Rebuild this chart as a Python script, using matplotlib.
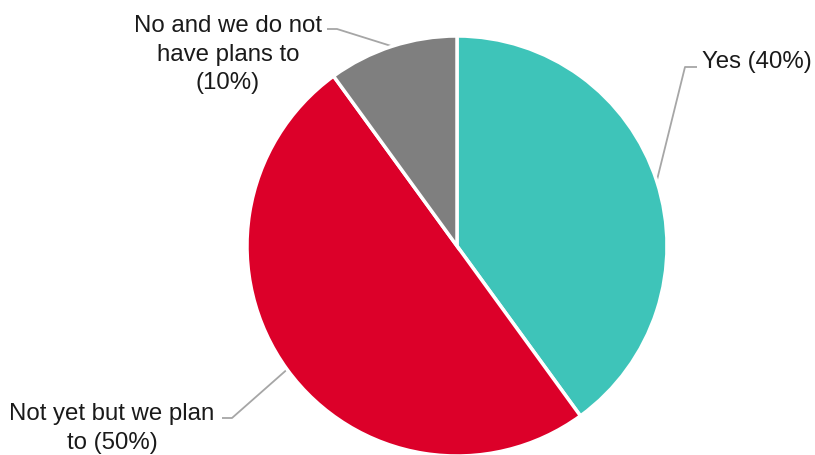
import numpy as np
import matplotlib
matplotlib.use("Agg")
import matplotlib.pyplot as plt

categories = ["Yes (40%)", "Not yet but we plan\nto (50%)", "No and we do not\nhave plans to\n(10%)"]
values = [40, 50, 10]
colors = ["#3EC4B9", "#DC0029", "#7F7F7F"]

W, H = 815, 456
fig = plt.figure(figsize=(W / 100, H / 100), dpi=100)
ax = fig.add_axes([0, 0, 1, 1])

cx, cy, r = 457, H - 247, 210
wedges, _ = ax.pie(values, colors=colors, startangle=90, counterclock=False,
                   center=(cx, cy), radius=r, frame=True,
                   wedgeprops=dict(edgecolor="white", linewidth=2.5))
ax.set_xlim(0, W)
ax.set_ylim(0, H)
ax.set_aspect("equal")
ax.axis("off")

# label layout: bend point, end point, text anchor x, first baseline y, ha (pixel coords, y from top)
layout = [
    ((685, 68), (697, 68), 702, 68, "left"),
    ((232, 419), (222, 419), 112, 420, "center"),
    ((337, 30), (327, 30), 228, 32, "center"),
]
line_step = 28.7

font = dict(family=["Liberation Sans", "DejaVu Sans"], fontsize=17.3, color="#1a1a1a")
for w, cat, (bend, end, tx, ty, ha) in zip(wedges, categories, layout):
    mid = np.deg2rad((w.theta1 + w.theta2) / 2)
    ex, ey = cx + r * np.cos(mid), cy + r * np.sin(mid)
    ax.plot([ex, bend[0], end[0]], [ey, H - bend[1], H - end[1]],
            color="#A6A6A6", lw=1.3, solid_capstyle="butt", zorder=0.5)
    for i, line in enumerate(cat.split("\n")):
        ax.text(tx, H - (ty + i * line_step), line, ha=ha, va="baseline", **font)

fig.savefig("out.png", dpi=100)
